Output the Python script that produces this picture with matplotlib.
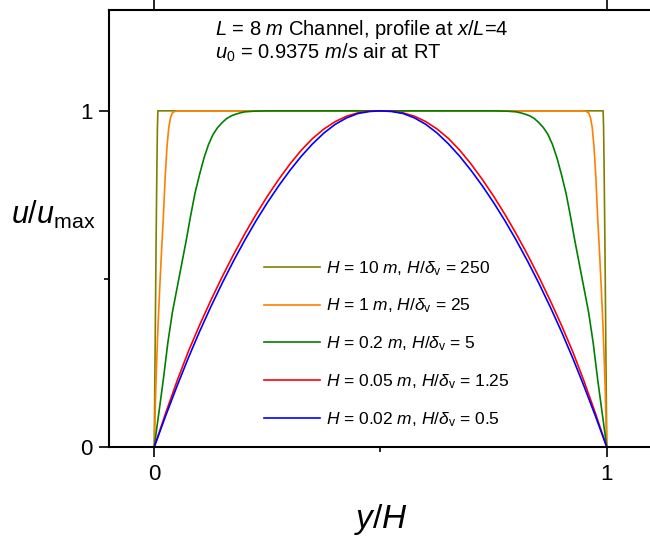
import numpy as np
from matplotlib import pyplot as plt
from matplotlib.ticker import FixedLocator

# profiles, y/H -> u/u_max
x_250 = [0, 0.002, 0.004, 0.006, 0.007, 0.008, 0.5, 0.992, 0.993, 0.994, 0.996, 0.998, 1.0]
u_250 = [0, 0.3, 0.6, 0.85, 0.95, 1.0, 1.0, 1.0, 0.95, 0.85, 0.6, 0.3, 0]

x_25 = [0, 0.004, 0.008, 0.012, 0.016, 0.02, 0.024, 0.028, 0.032, 0.036, 0.04, 0.045, 0.05,
        0.5, 0.95, 0.955, 0.96, 0.964, 0.968, 0.972, 0.976, 0.98, 0.984, 0.988, 0.992, 0.996, 1.0]
u_25 = [0, 0.2, 0.35, 0.47, 0.58, 0.68, 0.8, 0.89, 0.95, 0.98, 0.994, 0.998, 1.0,
        1.0, 1.0, 0.998, 0.994, 0.98, 0.95, 0.89, 0.8, 0.68, 0.58, 0.47, 0.35, 0.2, 0]

x_5 = [0, 0.01, 0.02, 0.03, 0.04, 0.05, 0.06, 0.07, 0.08, 0.09, 0.1, 0.11, 0.12, 0.13, 0.14, 0.15,
       0.16, 0.17, 0.18, 0.19, 0.2, 0.22, 0.25, 0.5,
       0.75, 0.78, 0.8, 0.81, 0.82, 0.83, 0.84, 0.85, 0.86, 0.87, 0.88, 0.89, 0.9, 0.91, 0.92,
       0.93, 0.94, 0.95, 0.96, 0.97, 0.98, 0.99, 1.0]
u_5 = [0, 0.1, 0.2, 0.31, 0.4, 0.47, 0.54, 0.61, 0.685, 0.755, 0.81, 0.86, 0.9, 0.93, 0.95, 0.965,
       0.977, 0.985, 0.99, 0.994, 0.997, 0.999, 1.0, 1.0,
       1.0, 0.999, 0.997, 0.994, 0.99, 0.985, 0.977, 0.965, 0.95, 0.93, 0.9, 0.86, 0.81, 0.755, 0.685,
       0.61, 0.54, 0.47, 0.4, 0.31, 0.2, 0.1, 0]

x_grid = np.linspace(0, 1, 41)
u_125 = [0, 0.1, 0.195, 0.283, 0.362, 0.436, 0.506, 0.572, 0.634, 0.692, 0.746, 0.796, 0.842, 0.883,
         0.918, 0.946, 0.968, 0.984, 0.994, 0.999, 1.0, 0.999, 0.994, 0.984, 0.968, 0.946, 0.918,
         0.883, 0.842, 0.796, 0.746, 0.692, 0.634, 0.572, 0.506, 0.436, 0.362, 0.283, 0.195, 0.1, 0]
u_05 = [0, 0.092, 0.18, 0.264, 0.343, 0.417, 0.487, 0.553, 0.615, 0.673, 0.727, 0.777, 0.823, 0.865,
        0.902, 0.934, 0.96, 0.979, 0.992, 0.998, 1.0, 0.998, 0.992, 0.979, 0.96, 0.934, 0.902,
        0.865, 0.823, 0.777, 0.727, 0.673, 0.615, 0.553, 0.487, 0.417, 0.343, 0.264, 0.18, 0.092, 0]

labels = [r'$H$ = 10 $m$, $H/\delta_{\mathrm{v}}$ = 250',
          r'$H$ = 1 $m$, $H/\delta_{\mathrm{v}}$ = 25',
          r'$H$ = 0.2 $m$, $H/\delta_{\mathrm{v}}$ = 5',
          r'$H$ = 0.05 $m$, $H/\delta_{\mathrm{v}}$ = 1.25',
          r'$H$ = 0.02 $m$, $H/\delta_{\mathrm{v}}$ = 0.5']
colors = ['#808000', '#FF8000', '#008000', '#FF0000', '#0000FF']


def application():
    plt.rcParams['font.family'] = 'Liberation Sans'
    plt.rcParams['mathtext.fontset'] = 'custom'
    plt.rcParams['mathtext.rm'] = 'Liberation Sans'
    plt.rcParams['mathtext.it'] = 'Liberation Sans:italic'

    fig = plt.figure(figsize=(6.5, 5.39), dpi=100)
    ax = fig.add_axes([109 / 650, 92 / 539, 543 / 650, 437 / 539])

    series = [(x_250, u_250), (x_25, u_25), (x_5, u_5), (x_grid, u_125), (x_grid, u_05)]
    for (xs, us), c, lab in zip(series, colors, labels):
        ax.plot(xs, us, '-', color=c, linewidth=1.2, label=lab)

    ax.set_xlim(-0.1, 1.1)
    ax.set_ylim(0, 1.3)
    ax.xaxis.set_major_locator(FixedLocator([0, 1]))
    ax.xaxis.set_minor_locator(FixedLocator([0.5]))
    ax.yaxis.set_major_locator(FixedLocator([0, 1]))
    ax.yaxis.set_minor_locator(FixedLocator([0.5]))
    ax.set_xticklabels(['0', '1'])
    ax.set_yticklabels(['0', '1'])

    for s in ax.spines.values():
        s.set_linewidth(1.5)
    ax.spines['right'].set_visible(False)
    ax.tick_params(which='major', direction='out', length=7, width=1.2, labelsize=16, pad=5, top=True)
    ax.tick_params(which='minor', direction='out', length=3.5, width=1.2)

    ax.set_xlabel(r'$y/H$', fontsize=24)
    ax.xaxis.set_label_coords(0.5, -0.125)
    ax.set_ylabel(r'$u/u_{\mathrm{max}}$', fontsize=22, rotation=0, ha='left', va='center')
    ax.yaxis.set_label_coords(-0.18, 0.53)

    ax.text(0.195, 0.943, r'$L$ = 8 $m$ Channel, profile at $x$/$L$=4', transform=ax.transAxes, fontsize=14.5)
    ax.text(0.195, 0.888, r'$u_{0}$ = 0.9375 $m/s$ air at RT', transform=ax.transAxes, fontsize=14.5)

    ax.legend(loc='center left', bbox_to_anchor=(0.2855, 0.236), frameon=False, fontsize=12.5,
              handlelength=3.2, handletextpad=0.35, labelspacing=1.1, borderpad=0, borderaxespad=0)

    fig.savefig('out.png', dpi=100)


if __name__ == "__main__":
    application()
